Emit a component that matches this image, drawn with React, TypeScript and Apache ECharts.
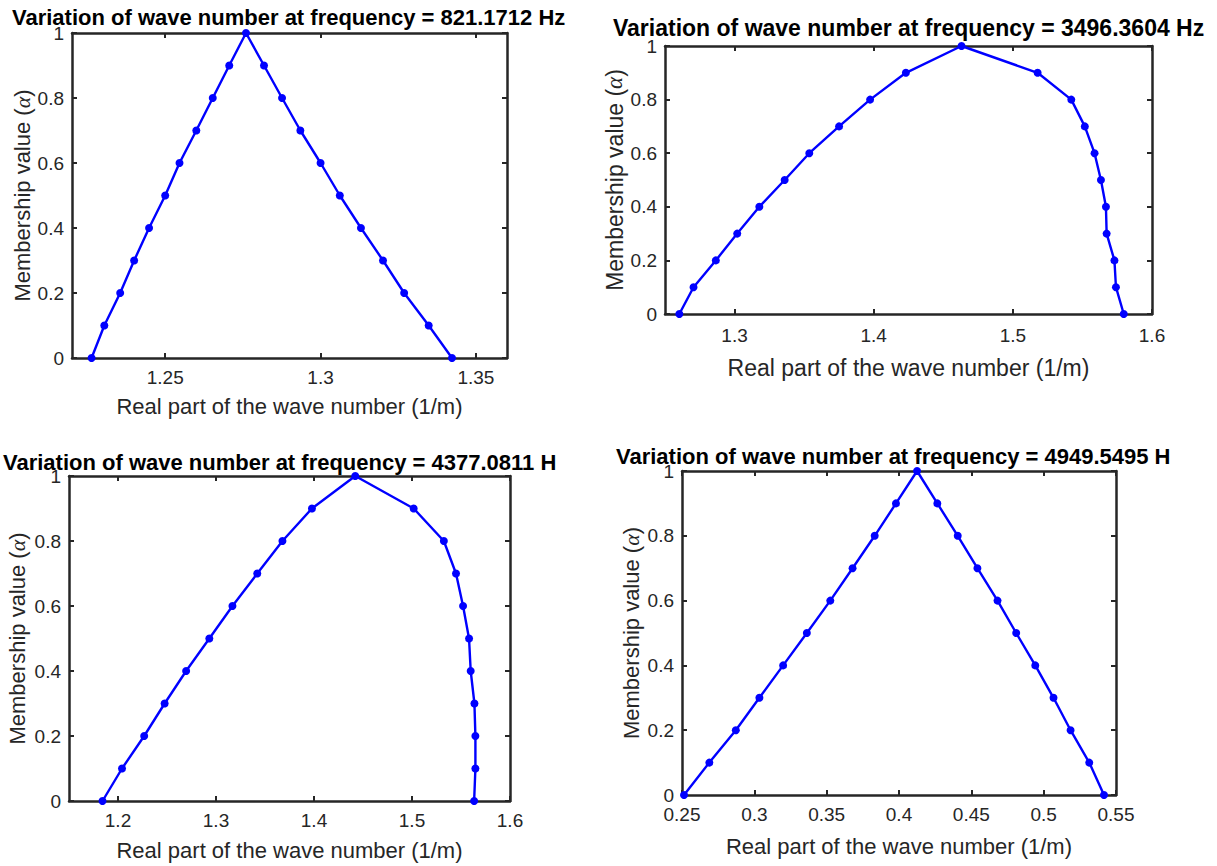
import React, { useEffect, useRef } from "react";
import * as echarts from "echarts";

// Membership levels (alpha-cuts): left branch up to the peak, right branch down
const alphaLevels = [0, 0.1, 0.2, 0.3, 0.4, 0.5, 0.6, 0.7, 0.8, 0.9, 1, 0.9, 0.8, 0.7, 0.6, 0.5, 0.4, 0.3, 0.2, 0.1, 0];

// Real part of wave number for each panel
const k821 = [1.2263, 1.2304, 1.2355, 1.24, 1.2448, 1.25, 1.2546, 1.26, 1.2653, 1.2706, 1.276, 1.2818, 1.2876, 1.2935, 1.3, 1.3062, 1.313, 1.3201, 1.3269, 1.3348, 1.3423];
const k3496 = [1.2603, 1.2705, 1.2865, 1.3019, 1.3178, 1.336, 1.3537, 1.3751, 1.3974, 1.4231, 1.4631, 1.5178, 1.542, 1.5517, 1.5587, 1.5633, 1.5669, 1.5674, 1.573, 1.5741, 1.5797];
const k4377 = [1.1842, 1.2041, 1.2267, 1.2476, 1.2695, 1.2932, 1.3168, 1.3421, 1.3678, 1.3979, 1.4421, 1.5017, 1.5325, 1.5449, 1.5521, 1.5582, 1.5599, 1.5637, 1.5647, 1.5647, 1.5634];
const k4949 = [0.2514, 0.2689, 0.2872, 0.3035, 0.3199, 0.3363, 0.3525, 0.3679, 0.3832, 0.3979, 0.4125, 0.4265, 0.4406, 0.4542, 0.4681, 0.481, 0.4942, 0.5068, 0.5186, 0.5315, 0.5417];

// Tick labels
const xTicks821 = [1.25, 1.3, 1.35];
const xTicks3496 = [1.3, 1.4, 1.5, 1.6];
const xTicks4377 = [1.2, 1.3, 1.4, 1.5, 1.6];
const xTicks4949 = [0.25, 0.3, 0.35, 0.4, 0.45, 0.5, 0.55];

const titles = [
  "Variation of wave number at frequency = 821.1712 Hz",
  "Variation of wave number at frequency = 3496.3604 Hz",
  "Variation of wave number at frequency = 4377.0811 Hz",
  "Variation of wave number at frequency = 4949.5495 Hz",
];

const xName = "Real part of the wave number (1/m)";
const yName = "Membership value ({a|α})";

const FONT = '"Liberation Sans", Arial, Helvetica, sans-serif';
const AX = "#262626";
const BLUE = "#0000ff";

type PanelCfg = {
  k: number[];
  xMin: number;
  xMax: number;
  xTicks: number[];
  grid: { left: number; top: number; width: number; height: number };
  nameSize: number;
  xNameGap: number;
  yNameGap: number;
  xLabelMargin: number;
};

const panels: PanelCfg[] = [
  { k: k821, xMin: 1.22, xMax: 1.36, xTicks: xTicks821, grid: { left: 72, top: 33, width: 435, height: 325 }, nameSize: 22, xNameGap: 37, yNameGap: 39, xLabelMargin: 10 },
  { k: k3496, xMin: 1.25, xMax: 1.6, xTicks: xTicks3496, grid: { left: 665, top: 46, width: 487, height: 268 }, nameSize: 23, xNameGap: 42, yNameGap: 39, xLabelMargin: 12 },
  { k: k4377, xMin: 1.15, xMax: 1.6, xTicks: xTicks4377, grid: { left: 69, top: 476, width: 441, height: 325 }, nameSize: 22, xNameGap: 38, yNameGap: 41, xLabelMargin: 10 },
  { k: k4949, xMin: 0.25, xMax: 0.55, xTicks: xTicks4949, grid: { left: 682, top: 471, width: 434, height: 324 }, nameSize: 22, xNameGap: 40, yNameGap: 40, xLabelMargin: 10 },
];

const titlePos = [
  { x: 12, y: 17, size: 22, width: 560 },
  { x: 613, y: 28, size: 23, width: 620 },
  { x: 3, y: 462, size: 22, width: 560 },
  { x: 616, y: 456, size: 22, width: 560 },
];

function buildOption() {
  const grids: any[] = [];
  const xAxes: any[] = [];
  const yAxes: any[] = [];
  const series: any[] = [];
  const lineStyle = { color: AX, width: 2.5 };
  const tickStyle = { color: AX, width: 2 };

  panels.forEach((p, i) => {
    grids.push({ ...p.grid, containLabel: false });
    const nameTextStyle = { color: AX, fontSize: p.nameSize, fontFamily: FONT };
    // bottom x
    xAxes.push({
      type: "value",
      gridIndex: i,
      position: "bottom",
      min: p.xMin,
      max: p.xMax,
      axisLine: { show: true, onZero: false, lineStyle },
      axisTick: { show: true, inside: true, length: 5, lineStyle: tickStyle, customValues: p.xTicks },
      axisLabel: { show: true, customValues: p.xTicks, color: AX, fontSize: 19, lineHeight: 16, fontFamily: FONT, margin: p.xLabelMargin + 1, hideOverlap: false },
      splitLine: { show: false },
      name: xName,
      nameLocation: "middle",
      nameGap: p.xNameGap,
      nameTextStyle,
    });
    // top x (box)
    xAxes.push({
      type: "value",
      gridIndex: i,
      position: "top",
      min: p.xMin,
      max: p.xMax,
      axisLine: { show: true, onZero: false, lineStyle },
      axisTick: { show: true, inside: true, length: 5, lineStyle: tickStyle, customValues: p.xTicks },
      axisLabel: { show: false },
      splitLine: { show: false },
    });
    // left y
    yAxes.push({
      type: "value",
      gridIndex: i,
      position: "left",
      min: 0,
      max: 1,
      interval: 0.2,
      axisLine: { show: true, onZero: false, lineStyle },
      axisTick: { show: true, inside: true, length: 5, lineStyle: tickStyle },
      axisLabel: { show: true, color: AX, fontSize: 19, lineHeight: 16, fontFamily: FONT, margin: 8, formatter: (v: number) => String(Math.round(v * 10) / 10) },
      splitLine: { show: false },
      name: yName,
      nameLocation: "middle",
      nameGap: p.yNameGap,
      nameTextStyle: {
        ...nameTextStyle,
        rich: {
          a: { fontStyle: "italic", fontFamily: '"Liberation Serif", "DejaVu Serif", serif', fontSize: p.nameSize, color: AX },
        },
      },
    });
    // right y (box)
    yAxes.push({
      type: "value",
      gridIndex: i,
      position: "right",
      min: 0,
      max: 1,
      interval: 0.2,
      axisLine: { show: true, onZero: false, lineStyle },
      axisTick: { show: true, inside: true, length: 5, lineStyle: tickStyle },
      axisLabel: { show: false },
      splitLine: { show: false },
    });
    series.push({
      type: "line",
      xAxisIndex: 2 * i,
      yAxisIndex: 2 * i,
      data: p.k.map((x, j) => [x, alphaLevels[j]]),
      symbol: "circle",
      symbolSize: 8,
      showSymbol: true,
      clip: false,
      lineStyle: { color: BLUE, width: 2.4 },
      itemStyle: { color: BLUE },
      z: 10,
    });
  });

  const graphic = titles.map((t, i) => ({
    type: "text",
    x: titlePos[i].x,
    y: titlePos[i].y,
    style: {
      text: t,
      fill: "#000",
      fontSize: titlePos[i].size,
      fontWeight: "bold",
      fontFamily: FONT,
      lineHeight: 16,
      verticalAlign: "middle",
      align: "left",
      width: titlePos[i].width,
      overflow: "truncate",
      ellipsis: "",
    },
  }));

  return {
    animation: false,
    backgroundColor: "#ffffff",
    grid: grids,
    xAxis: xAxes,
    yAxis: yAxes,
    series,
    graphic,
  };
}

export default function App() {
  const ref = useRef<HTMLDivElement>(null);
  useEffect(() => {
    document.body.style.margin = "0";
    if (!ref.current) return;
    const chart = echarts.init(ref.current, undefined, { renderer: "svg" });
    chart.setOption(buildOption() as any);
    return () => chart.dispose();
  }, []);
  return <div ref={ref} style={{ width: 1217, height: 866, background: "#fff" }} />;
}
